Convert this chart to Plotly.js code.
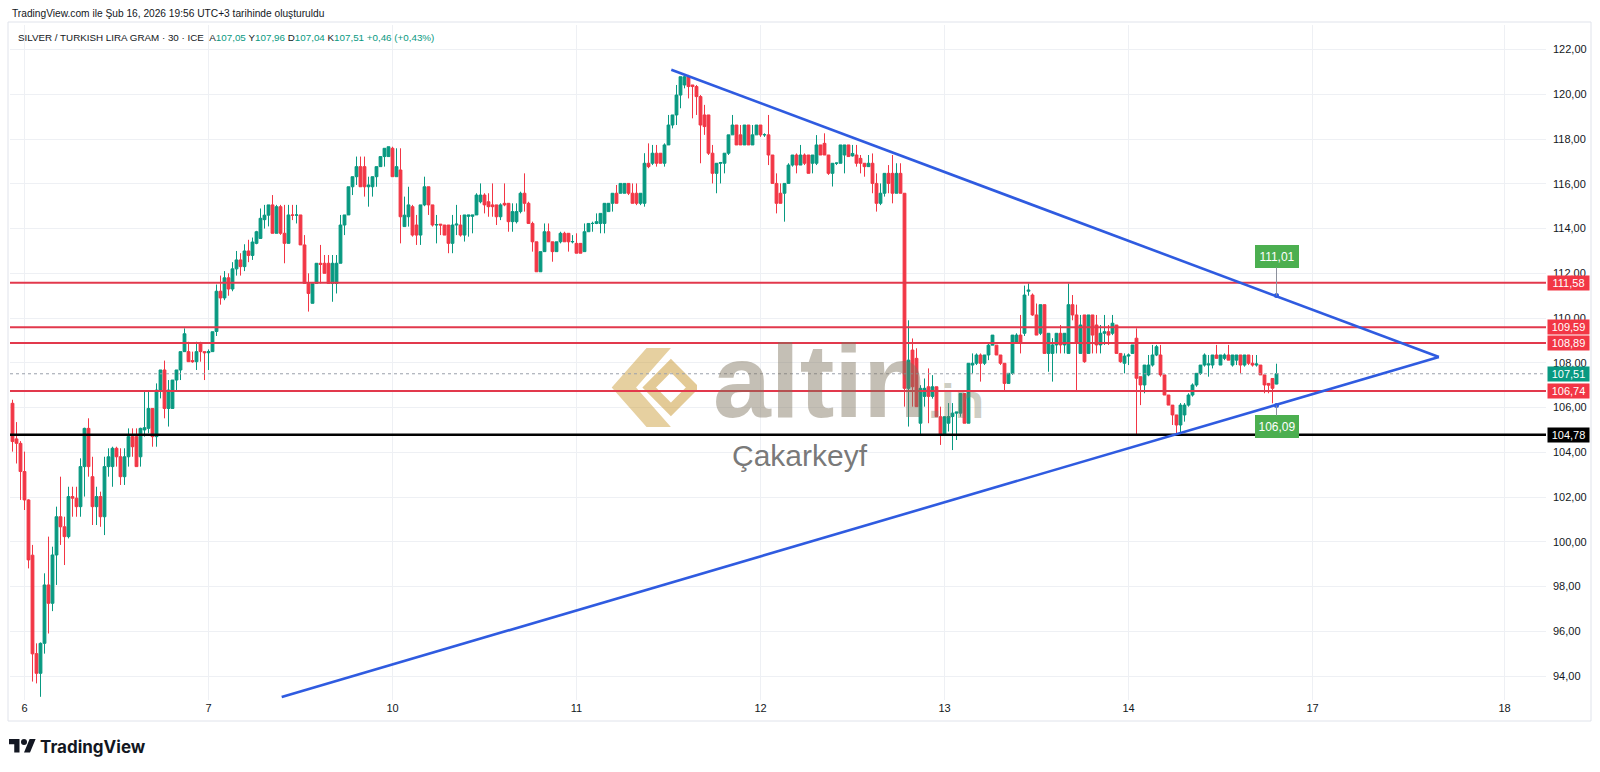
<!DOCTYPE html>
<html><head><meta charset="utf-8">
<script src="https://cdn.plot.ly/plotly-3.0.1.min.js"></script>
<style>html,body{margin:0;padding:0;background:#fff;}#chart{width:1600px;height:772px;}</style>
</head><body><div id="chart"></div>
<script>
// ---- data (30-minute bars) ----
const openP=[
106.19,104.6,104.4,103.14,101.87,99.4,95.0,94.12,95.46,98.07,
97.25,99.41,101.12,100.67,100.23,102.02,101.95,101.57,103.36,105.07,
102.91,101.57,102.02,101.12,103.36,103.36,104.18,103.8,102.91,103.8,
104.7,104.7,103.8,105.0,105.07,105.96,104.7,106.78,107.68,105.96,
105.96,107.23,107.68,108.5,108.5,108.1,108.05,108.87,108.5,108.45,
108.5,109.4,111.2,110.9,111.8,111.3,112.2,112.6,112.3,113.0,
112.8,113.34,113.56,114.4,114.6,115.06,113.79,114.98,113.79,113.34,
114.61,114.6,114.61,113.27,111.55,110.66,111.55,112.45,112.45,112.45,
111.55,111.55,112.45,114.16,114.61,115.87,116.32,116.77,116.77,115.87,
115.87,116.32,116.77,117.22,117.22,117.59,116.32,116.62,114.09,114.53,
114.98,114.16,113.71,115.06,115.87,115.06,114.16,114.2,114.16,114.16,
113.34,114.16,114.16,113.71,114.55,114.55,114.61,115.2,115.5,115.2,
115.06,115.06,114.53,115.13,115.13,114.31,114.31,114.76,115.58,115.13,
114.23,113.41,112.07,112.97,113.86,113.41,112.97,113.41,113.79,113.79,
113.41,113.34,113.34,112.97,113.86,114.23,114.23,114.23,114.23,114.76,
115.13,115.58,115.58,115.58,116.02,115.58,115.58,115.13,115.13,116.92,
116.92,117.37,117.37,116.92,117.74,118.63,119.08,119.97,120.42,120.79,
120.42,120.35,119.9,119.08,119.08,117.37,116.47,116.92,116.92,117.37,
118.19,118.63,118.19,117.74,118.63,117.74,118.19,118.63,118.19,118.19,
117.29,116.02,115.58,115.58,116.02,116.84,117.29,116.84,117.29,117.29,
116.92,116.92,117.74,117.81,117.29,116.47,116.92,116.92,117.29,117.74,
117.25,117.29,117.14,116.92,116.77,116.92,116.02,115.13,115.58,116.47,
116.47,115.58,116.47,115.58,106.86,108.57,108.2,105.3,106.5,106.93,
106.5,106.93,105.59,104.77,105.3,105.6,105.75,105.75,106.63,105.3,
107.9,107.98,108.35,107.98,108.35,108.79,108.79,108.35,107.98,107.08,
107.53,108.87,109.24,109.32,111.2,111.03,110.14,109.32,110.6,108.42,
108.42,108.8,109.32,108.8,108.42,110.6,110.14,108.42,110.14,108.42,
110.14,109.69,108.8,109.32,109.39,109.32,109.69,108.42,107.98,108.3,
108.42,109.1,107.38,107.01,107.46,107.9,108.35,108.35,107.46,106.56,
106.11,105.67,105.22,105.67,106.11,106.56,107.01,107.53,107.9,107.9,
107.9,108.35,107.9,108.2,108.35,107.9,108.12,108.35,107.9,108.35,
107.98,107.9,107.9,107.46,107.08,107.3,107.05];
const highP=[
106.35,105.35,104.5,104.03,101.9,99.86,95.46,95.5,98.59,100.23,
99.78,101.57,102.91,101.12,102.46,102.46,102.46,103.73,105.1,105.52,
103.8,102.46,102.24,103.8,104.18,104.25,104.25,104.18,104.18,105.07,
105.07,105.07,105.1,106.78,106.78,105.96,107.08,107.68,108.1,107.23,
107.23,107.68,108.5,109.54,108.94,108.5,108.94,108.94,108.5,108.6,
109.39,111.5,111.9,112.1,112.0,112.5,113.0,112.9,113.3,113.5,
113.6,113.9,114.9,115.06,115.06,115.5,115.06,115.06,115.06,115.06,
115.06,115.06,114.61,113.71,112.0,111.55,112.45,113.27,112.82,112.82,
112.82,112.82,114.61,114.61,115.87,116.32,117.22,117.22,117.22,116.32,
116.32,116.77,117.22,117.59,117.66,117.66,117.59,117.59,115.43,115.87,
115.06,114.61,115.06,116.32,115.87,115.06,114.61,114.2,114.16,114.16,
114.61,115.06,114.61,114.61,114.61,114.61,115.58,116.02,115.58,115.58,
116.02,115.06,115.13,116.02,115.13,115.13,115.13,115.65,116.47,115.2,
114.31,113.41,112.97,114.23,114.23,113.41,113.41,113.86,113.86,113.79,
113.71,113.79,113.34,114.23,114.23,114.31,114.68,114.68,115.13,115.13,
115.58,115.95,116.02,116.02,116.02,116.02,116.02,115.58,117.37,117.81,
117.74,117.74,117.37,117.81,119.08,119.08,120.42,120.79,120.87,120.87,
120.42,120.42,119.97,119.53,119.08,117.74,116.92,116.98,117.37,118.19,
119.08,118.63,118.63,118.63,118.63,118.63,118.63,118.63,118.26,119.08,
117.29,116.47,116.02,116.02,116.92,117.29,117.36,117.74,117.36,117.29,
117.29,118.18,117.74,118.26,117.29,116.92,116.95,117.74,117.74,117.74,
117.74,117.74,117.29,116.92,117.29,117.36,116.47,116.02,116.47,116.84,
117.29,116.92,116.92,115.58,109.9,109.09,108.65,107.0,107.3,107.75,
107.45,106.93,106.04,105.6,106.2,106.2,105.8,106.63,106.63,107.98,
108.42,108.42,108.42,108.35,108.87,109.24,108.79,108.35,107.98,107.53,
109.24,109.32,110.14,111.45,111.55,111.1,110.65,110.6,110.6,109.32,
109.1,109.32,109.69,109.32,111.55,111.03,110.6,110.14,110.14,110.14,
110.14,110.14,109.69,110.14,109.69,110.14,109.69,108.42,108.42,108.42,
108.8,109.54,107.38,107.9,108.35,108.8,108.8,108.8,107.46,106.56,
106.11,105.67,106.2,106.2,106.64,107.08,107.53,107.9,108.42,108.35,
108.35,108.8,108.35,108.42,108.8,108.35,108.35,108.35,108.35,108.35,
108.35,108.35,107.9,107.46,107.08,107.3,107.96];
const lowP=[
104.03,103.5,101.87,101.42,98.81,93.75,93.67,93.07,95.0,95.9,
96.9,98.07,99.86,98.96,100.15,101.12,101.12,101.12,102.02,102.91,
100.75,100.75,100.67,100.3,102.91,102.46,103.36,102.54,102.54,103.36,
103.8,103.36,103.36,104.7,104.85,104.25,104.25,106.41,105.52,105.15,
105.96,106.78,107.23,108.5,108.05,108.0,107.68,108.05,107.23,107.68,
108.5,109.2,110.6,110.8,111.0,111.2,111.9,111.9,112.1,112.5,
112.6,113.3,113.56,114.0,114.1,113.79,113.79,113.72,112.45,113.34,
114.38,114.23,113.27,111.55,110.29,110.66,111.55,111.55,112.0,111.55,
110.73,111.1,112.45,113.71,114.61,115.5,115.95,115.87,115.43,114.98,
115.43,115.87,116.77,116.77,117.22,116.32,116.32,113.34,114.09,114.09,
113.64,113.27,113.27,115.0,114.61,114.09,113.34,113.71,113.71,112.9,
112.9,113.71,113.64,113.42,113.64,113.79,114.61,115.13,114.68,114.53,
114.53,114.16,114.38,115.0,113.86,113.86,114.23,114.68,114.76,114.23,
112.97,112.07,112.07,112.97,113.41,112.52,112.97,113.34,113.41,112.97,
113.34,112.9,112.9,112.97,113.86,113.86,114.2,113.79,113.79,114.76,
114.76,115.13,115.58,115.58,115.5,115.13,115.05,115.05,114.98,116.7,
116.84,116.77,116.92,116.77,117.74,118.48,118.63,119.38,120.27,119.82,
118.93,119.08,116.92,118.19,117.29,116.02,115.58,116.02,116.47,117.29,
118.19,117.74,117.74,117.74,117.74,117.74,118.19,118.1,118.1,116.84,
116.02,114.68,115.13,114.31,116.02,116.77,116.47,116.84,116.84,116.47,
116.47,116.84,117.29,117.29,116.4,115.88,116.84,116.92,116.47,117.22,
117.22,116.77,116.47,116.32,116.77,115.58,114.76,115.05,115.43,115.58,
115.13,115.58,115.58,106.04,105.15,106.04,106.04,104.76,106.04,105.3,
106.4,105.59,104.33,104.77,104.93,104.1,104.55,105.59,105.3,105.3,
107.53,107.9,107.16,107.9,108.12,108.79,108.35,107.9,106.78,107.08,
107.46,108.87,108.42,109.2,111.0,110.1,109.24,109.24,108.42,107.6,
107.16,108.42,108.42,108.42,108.42,109.9,106.74,108.42,108.0,108.42,
108.42,108.42,108.42,108.8,108.8,109.24,108.42,108.0,107.53,107.9,
108.42,104.77,106.11,106.64,107.4,107.83,108.3,107.38,106.56,106.11,
105.22,104.77,104.77,105.37,106.04,106.49,106.93,107.46,107.83,107.38,
107.75,108.2,107.9,108.12,108.12,107.83,107.9,107.53,107.83,107.9,
107.83,107.83,107.46,106.64,106.64,106.19,107.04];
const closeP=[
104.48,104.4,103.14,101.87,99.19,94.99,94.12,95.46,98.07,97.25,
99.41,101.12,100.67,100.23,102.02,101.95,101.57,103.36,105.07,103.36,
101.57,102.02,101.12,103.36,103.8,104.18,103.8,102.91,103.8,104.7,
104.25,103.36,105.07,105.1,105.96,104.7,106.78,107.68,105.96,106.78,
107.23,107.68,108.5,109.3,108.05,108.05,108.5,108.5,108.45,108.5,
109.39,111.2,110.9,111.8,111.3,112.2,112.6,112.3,113.0,112.8,
113.4,113.86,114.46,114.6,115.06,113.79,114.98,113.79,113.34,114.61,
114.6,114.61,113.27,111.55,111.1,111.55,112.45,112.4,112.0,111.55,
112.45,112.45,114.16,114.61,115.87,116.32,116.77,115.87,115.87,115.95,
116.32,116.77,117.22,117.59,117.66,116.32,116.77,114.53,114.6,115.06,
113.71,113.71,115.06,115.87,115.06,114.16,114.18,114.16,113.71,113.34,
114.16,114.2,113.71,114.61,114.61,114.61,115.5,115.5,115.06,114.98,
114.98,114.53,115.06,115.06,114.31,114.76,114.76,115.58,115.13,114.23,
113.41,112.07,112.97,113.86,113.41,112.97,113.41,113.79,113.41,113.41,
113.42,112.9,112.9,113.86,114.23,114.23,114.31,114.68,115.13,115.13,
115.58,115.13,116.02,116.02,115.58,115.13,115.13,115.58,116.92,116.77,
117.37,116.92,116.92,117.74,118.63,119.08,119.97,120.79,120.79,120.35,
120.35,119.9,118.63,118.56,117.37,116.47,116.92,116.95,117.37,118.19,
118.63,117.74,117.74,118.63,117.74,118.19,118.63,118.19,118.2,117.29,
116.02,115.13,115.13,116.02,116.84,117.29,116.84,117.29,116.92,116.47,
117.29,117.74,117.29,117.29,116.47,116.92,116.93,117.74,117.74,117.22,
117.36,116.92,116.92,116.77,116.92,116.02,115.13,115.58,116.47,116.02,
115.58,116.47,115.58,106.86,108.12,106.93,106.04,106.86,106.86,106.5,
106.93,105.59,104.77,105.59,105.6,105.75,105.8,106.63,105.3,107.98,
107.98,108.35,107.98,108.35,108.79,109.24,108.35,107.98,107.08,107.53,
109.24,109.24,108.87,111.03,111.25,110.14,109.24,110.6,108.42,109.32,
108.8,109.32,108.8,109.32,110.6,110.14,108.87,109.69,108.05,110.14,
109.24,108.8,109.32,109.39,109.24,109.77,108.42,108.05,108.3,108.35,
108.8,107.31,107.01,107.9,107.9,108.35,108.72,107.46,106.56,106.11,
105.67,105.22,106.11,106.11,106.56,107.01,107.53,107.9,108.35,107.95,
108.35,108.2,108.35,108.35,108.12,108.35,108.35,107.9,108.35,107.98,
107.9,107.95,107.46,107.01,107.0,106.86,107.51];

const dayTickBars=[3,49,95,141,187,233,279,325,373];
const dayTickLabels=['6','7','10','11','12','13','14','17','18'];
const levelPrices=[111.58,109.59,108.89,106.74];
const supportPrice=104.78;
const lastPrice=107.51;
const upperTrendBars=[164.7,356.6], upperTrendPrices=[121.10,108.26];
const lowerTrendBars=[67.3,356.6], lowerTrendPrices=[93.06,108.26];
const markerBars=[316,316], markerPrices=[111.01,106.09];
const ohlcLetters=['A','Y','D','K'], ohlcValues=[107.05,107.96,107.04,107.51];
const changeAbs=0.46, changePct=0.43;

// ---- helpers ----
const fmt=v=>v.toFixed(2).replace('.',',');
const PL=10, PR=1546, PT=25, PB=700;
const px=v=>(v-PL)/(PR-PL);
const py=v=>(PB-v)/(PB-PT);
const barIdx=openP.map((_,i)=>i);
const GREEN='#089981', RED='#f23645', LVL='#e2394c', BLUE='#2f5be0';
const FONT='"Liberation Sans", Arial, sans-serif';

const shapes=[];
shapes.push({type:'rect',xref:'paper',yref:'paper',x0:px(8),x1:px(1591),y0:py(721),y1:py(22),line:{color:'#e0e3eb',width:1},layer:'below'});
levelPrices.forEach(p=>shapes.push({type:'line',xref:'paper',yref:'y',x0:0,x1:1,y0:p,y1:p,line:{color:LVL,width:2}}));
shapes.push({type:'line',xref:'paper',yref:'y',x0:0,x1:1,y0:supportPrice,y1:supportPrice,line:{color:'#000',width:2.5}});
shapes.push({type:'line',xref:'paper',yref:'y',x0:0,x1:1,y0:lastPrice,y1:lastPrice,line:{color:'#9aa0ab',width:1,dash:'dot'}});
shapes.push({type:'line',xref:'x',yref:'y',x0:upperTrendBars[0],x1:upperTrendBars[1],y0:upperTrendPrices[0],y1:upperTrendPrices[1],line:{color:BLUE,width:2.6}});
shapes.push({type:'line',xref:'x',yref:'y',x0:lowerTrendBars[0],x1:lowerTrendBars[1],y0:lowerTrendPrices[0],y1:lowerTrendPrices[1],line:{color:BLUE,width:2.6}});

const annotations=[];
levelPrices.forEach(p=>annotations.push({xref:'paper',yref:'y',x:1,y:p,xanchor:'left',yanchor:'middle',xshift:1,showarrow:false,text:fmt(p),font:{family:FONT,size:11,color:'#fff'},bgcolor:RED,width:39,height:12,borderpad:1}));
annotations.push({xref:'paper',yref:'y',x:1,y:lastPrice,xanchor:'left',yanchor:'middle',xshift:1,showarrow:false,text:fmt(lastPrice),font:{family:FONT,size:11,color:'#fff'},bgcolor:GREEN,width:39,height:12,borderpad:1});
annotations.push({xref:'paper',yref:'y',x:1,y:supportPrice,xanchor:'left',yanchor:'middle',xshift:1,showarrow:false,text:fmt(supportPrice),font:{family:FONT,size:11,color:'#fff'},bgcolor:'#000',width:39,height:12,borderpad:1});
annotations.push({x:markerBars[0],y:markerPrices[0],xref:'x',yref:'y',ax:0,ay:-39,showarrow:true,arrowhead:0,arrowwidth:1,arrowcolor:'#8c919c',text:fmt(markerPrices[0]),font:{family:FONT,size:12,color:'#fff'},bgcolor:'#4caf50',bordercolor:'#4caf50',width:38,height:17,borderpad:2});
annotations.push({x:markerBars[1],y:markerPrices[1],xref:'x',yref:'y',ax:0,ay:21,showarrow:true,arrowhead:0,arrowwidth:1,arrowcolor:'#8c919c',text:fmt(markerPrices[1]),font:{family:FONT,size:12,color:'#fff'},bgcolor:'#4caf50',bordercolor:'#4caf50',width:38,height:17,borderpad:2});
annotations.push({xref:'paper',yref:'paper',x:px(10),y:py(13),xanchor:'left',yanchor:'middle',showarrow:false,text:'TradingView.com ile Şub 16, 2026 19:56 UTC+3 tarihinde oluşturuldu',font:{family:FONT,size:10.2,color:'#131722'}});
let hdr='SILVER / TURKISH LIRA GRAM · 30 · ICE&nbsp;&nbsp;';
ohlcLetters.forEach((l,i)=>{hdr+=l+'<span style="color:'+GREEN+'">'+fmt(ohlcValues[i])+'</span>&nbsp;';});
hdr+='<span style="color:'+GREEN+'">+'+fmt(changeAbs)+' (+'+fmt(changePct)+'%)</span>';
annotations.push({xref:'paper',yref:'paper',x:px(16),y:py(37),xanchor:'left',yanchor:'middle',showarrow:false,text:hdr,font:{family:FONT,size:9.8,color:'#131722'}});
annotations.push({xref:'paper',yref:'paper',x:px(711),y:py(381),xanchor:'left',yanchor:'middle',showarrow:false,text:'<b>altin</b>',font:{family:FONT,size:104,color:'rgba(125,112,90,0.45)'}});
annotations.push({xref:'paper',yref:'paper',x:px(926),y:py(401),xanchor:'left',yanchor:'middle',showarrow:false,text:'<b>.in</b>',font:{family:FONT,size:48,color:'rgba(125,125,100,0.4)'}});
annotations.push({xref:'paper',yref:'paper',x:px(800),y:py(455),xanchor:'center',yanchor:'middle',showarrow:false,text:'Çakarkeyf',font:{family:FONT,size:30,color:'rgba(85,85,85,0.8)'}});
annotations.push({xref:'paper',yref:'paper',x:px(38),y:py(747),xanchor:'left',yanchor:'middle',showarrow:false,text:'<b>TradingView</b>',font:{family:'Inter, "Liberation Sans", sans-serif',size:17,color:'#131722'}});

const logoSvg='<svg xmlns="http://www.w3.org/2000/svg" viewBox="0 0 100 90"><polygon points="42,0 70,0 30,45 70,90 42,90 2,45" fill="rgb(200,150,45)" fill-opacity="0.45"/><polygon points="70,20 95,45 70,70 45,45" fill="none" stroke="rgb(200,150,45)" stroke-opacity="0.5" stroke-width="11"/></svg>';
const tvSvg='<svg xmlns="http://www.w3.org/2000/svg" viewBox="0 0 36 28"><path d="M14 22H7V11H0V4h14v18zM28 22h-8l7.5-18h8L28 22z" fill="#131722"/><circle cx="20" cy="8" r="4" fill="#131722"/></svg>';
const uri=s=>'data:image/svg+xml;charset=utf-8,'+encodeURIComponent(s);
const images=[
 {source:uri(logoSvg),xref:'paper',yref:'paper',x:px(610),y:py(348),sizex:(697-610)/(PR-PL),sizey:(427-348)/(PB-PT),xanchor:'left',yanchor:'top',sizing:'stretch',layer:'above'},
 {source:uri(tvSvg),xref:'paper',yref:'paper',x:px(9),y:py(736),sizex:27/(PR-PL),sizey:21/(PB-PT),xanchor:'left',yanchor:'top',sizing:'stretch',layer:'above'}
];

const traces=[
 {type:'candlestick',x:barIdx,open:openP,high:highP,low:lowP,close:closeP,
  increasing:{line:{color:GREEN,width:1},fillcolor:GREEN},
  decreasing:{line:{color:RED,width:1},fillcolor:RED},
  whiskerwidth:0,hoverinfo:'skip',showlegend:false},
 {type:'scatter',mode:'markers',x:markerBars,y:markerPrices,marker:{size:5,color:BLUE},hoverinfo:'skip',showlegend:false}
];

const layout={
 width:1600,height:772,margin:{l:PL,r:1600-PR,t:PT,b:772-PB},
 paper_bgcolor:'#ffffff',plot_bgcolor:'#ffffff',separators:',.',showlegend:false,
 dragmode:false,hovermode:false,boxgap:0.3,boxgroupgap:0,
 xaxis:{range:[-0.625,(PR-PL)/4-0.625],tickmode:'array',tickvals:dayTickBars,ticktext:dayTickLabels,
  showgrid:true,gridcolor:'#eef0f4',gridwidth:1,zeroline:false,showline:false,ticks:'',
  tickfont:{family:FONT,size:11,color:'#131722'},rangeslider:{visible:false},fixedrange:true},
 yaxis:{side:'right',range:[104-(PB-452.3)/22.37,104+(452.3-PT)/22.37],tick0:0,dtick:2,tickformat:'.2f',
  showgrid:true,gridcolor:'#eef0f4',gridwidth:1,zeroline:false,showline:false,ticks:'',ticklabelstandoff:6,
  tickfont:{family:FONT,size:11,color:'#131722'},fixedrange:true},
 shapes:shapes,annotations:annotations,images:images
};
Plotly.newPlot('chart',traces,layout,{displayModeBar:false,staticPlot:true});
</script></body></html>
